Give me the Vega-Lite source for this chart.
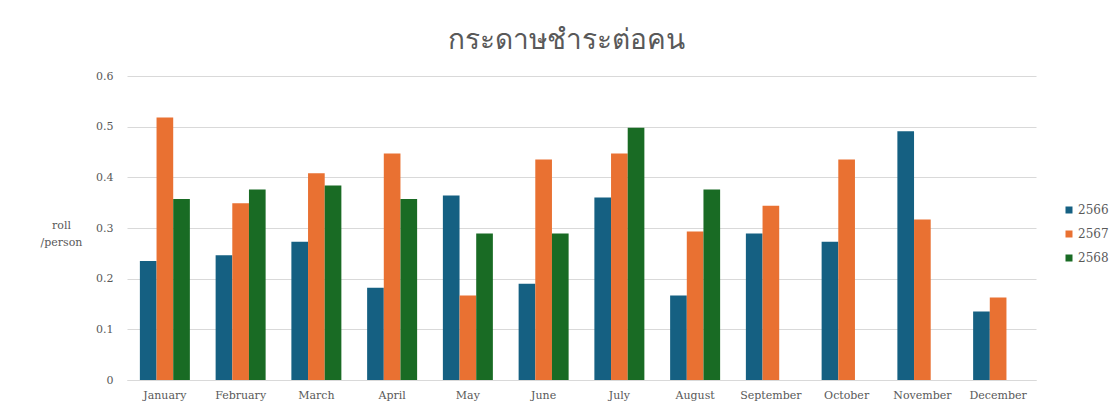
{
  "$schema": "https://vega.github.io/schema/vega-lite/v6.json",
  "autosize": {"type": "none"},
  "width": 909,
  "height": 304,
  "padding": {"left": 127, "top": 76, "right": 79, "bottom": 32},
  "background": "white",
  "title": {
    "text": "กระดาษชำระต่อคน",
    "font": "Noto Sans",
    "fontSize": 28,
    "fontWeight": "normal",
    "color": "#595959",
    "anchor": "middle",
    "dx": -15,
    "offset": 15
  },
  "data": {
    "values": [
      {"month": "January", "year": "2566", "value": 0.235},
      {"month": "January", "year": "2567", "value": 0.518},
      {"month": "January", "year": "2568", "value": 0.357},
      {"month": "February", "year": "2566", "value": 0.246},
      {"month": "February", "year": "2567", "value": 0.349},
      {"month": "February", "year": "2568", "value": 0.376},
      {"month": "March", "year": "2566", "value": 0.273},
      {"month": "March", "year": "2567", "value": 0.408},
      {"month": "March", "year": "2568", "value": 0.384},
      {"month": "April", "year": "2566", "value": 0.182},
      {"month": "April", "year": "2567", "value": 0.447},
      {"month": "April", "year": "2568", "value": 0.357},
      {"month": "May", "year": "2566", "value": 0.364},
      {"month": "May", "year": "2567", "value": 0.167},
      {"month": "May", "year": "2568", "value": 0.289},
      {"month": "June", "year": "2566", "value": 0.19},
      {"month": "June", "year": "2567", "value": 0.435},
      {"month": "June", "year": "2568", "value": 0.289},
      {"month": "July", "year": "2566", "value": 0.36},
      {"month": "July", "year": "2567", "value": 0.447},
      {"month": "July", "year": "2568", "value": 0.498},
      {"month": "August", "year": "2566", "value": 0.167},
      {"month": "August", "year": "2567", "value": 0.293},
      {"month": "August", "year": "2568", "value": 0.376},
      {"month": "September", "year": "2566", "value": 0.289},
      {"month": "September", "year": "2567", "value": 0.344},
      {"month": "October", "year": "2566", "value": 0.273},
      {"month": "October", "year": "2567", "value": 0.435},
      {"month": "November", "year": "2566", "value": 0.491},
      {"month": "November", "year": "2567", "value": 0.317},
      {"month": "December", "year": "2566", "value": 0.135},
      {"month": "December", "year": "2567", "value": 0.163}
    ]
  },
  "mark": {"type": "bar"},
  "encoding": {
    "x": {
      "field": "month",
      "type": "nominal",
      "sort": ["January","February","March","April","May","June","July","August","September","October","November","December"],
      "scale": {"paddingInner": 0.34, "paddingOuter": 0.17},
      "axis": {
        "title": null,
        "labelAngle": 0,
        "labelFont": "DejaVu Serif",
        "labelFontSize": 11,
        "labelColor": "#595959",
        "labelPadding": 9,
        "ticks": false,
        "domainColor": "#d9d9d9",
        "domainWidth": 1,
        "grid": false
      }
    },
    "xOffset": {
      "field": "year",
      "type": "nominal",
      "scale": {"domain": ["2566","2567","2568"], "paddingInner": 0, "paddingOuter": 0}
    },
    "y": {
      "field": "value",
      "type": "quantitative",
      "scale": {"domain": [0, 0.6], "nice": false},
      "axis": {
        "values": [0, 0.1, 0.2, 0.3, 0.4, 0.5, 0.6],
        "labelExpr": "datum.value == 0 ? '0' : format(datum.value, '.1f')",
        "title": ["roll", "/person"],
        "titleAngle": 0,
        "titleAlign": "center",
        "titleBaseline": "alphabetic",
        "titleX": -66,
        "titleY": 152,
        "titleFont": "DejaVu Serif",
        "titleFontSize": 11,
        "titleFontWeight": "normal",
        "titleColor": "#595959",
        "titleLineHeight": 17,
        "labelFont": "DejaVu Serif",
        "labelFontSize": 11,
        "labelColor": "#595959",
        "labelPadding": 14,
        "ticks": false,
        "domain": false,
        "gridColor": "#d9d9d9",
        "gridWidth": 1
      }
    },
    "color": {
      "field": "year",
      "type": "nominal",
      "scale": {"domain": ["2566","2567","2568"], "range": ["#156082", "#E97132", "#196B24"]},
      "legend": {
        "title": null,
        "orient": "none",
        "legendX": 936,
        "legendY": 128,
        "symbolType": "square",
        "symbolSize": 49,
        "symbolStrokeWidth": 0,
        "labelFont": "DejaVu Serif",
        "labelFontSize": 12,
        "labelColor": "#595959",
        "labelOffset": 3,
        "rowPadding": 12
      }
    }
  },
  "config": {
    "view": {"stroke": null},
    "axis": {"labelFontWeight": "normal"}
  }
}
